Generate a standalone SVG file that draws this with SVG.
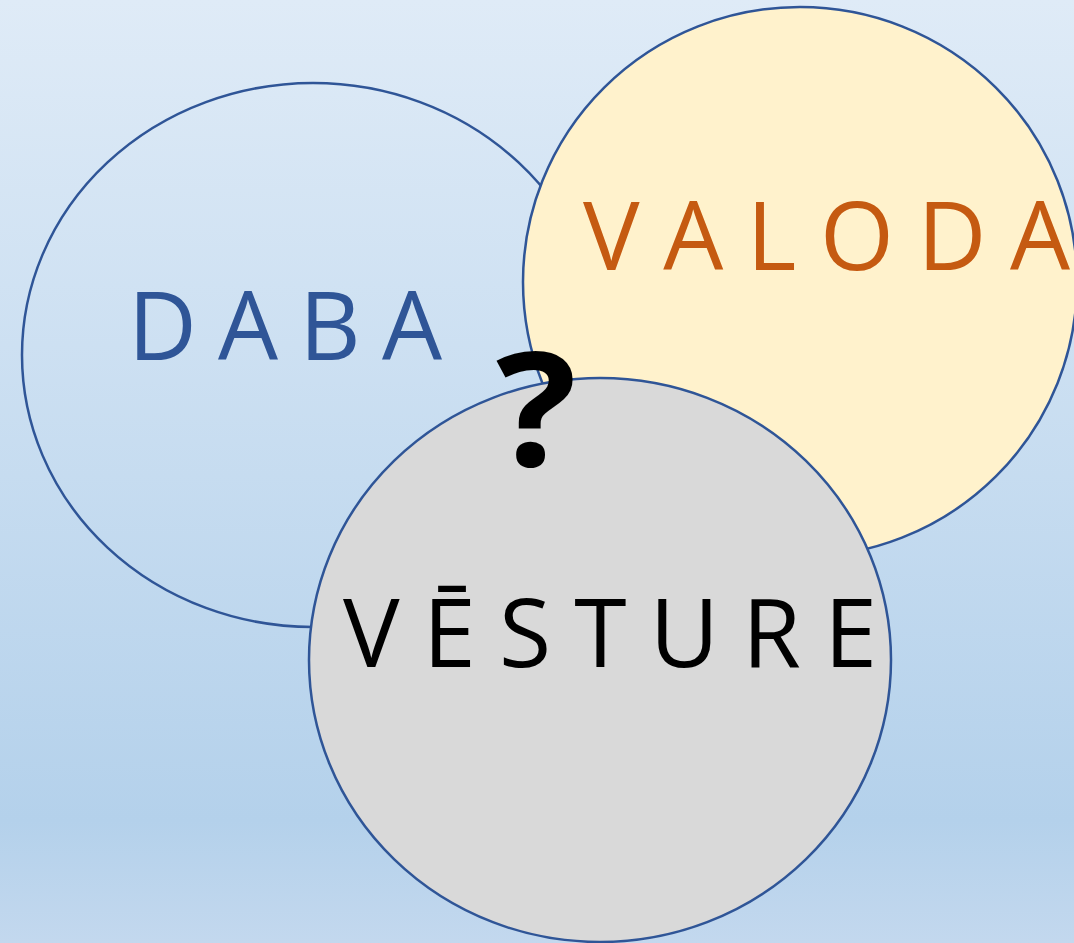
<svg xmlns="http://www.w3.org/2000/svg" width="1074" height="943" viewBox="0 0 1074 943">
  <defs>
    <linearGradient id="bg" x1="0" y1="0" x2="0" y2="1">
      <stop offset="0" stop-color="#dfebf7"/>
      <stop offset="0.87" stop-color="#b4d1eb"/>
      <stop offset="1" stop-color="#c3d8ee"/>
    </linearGradient>
  </defs>
  <style>
    .shape { stroke: #2f5597; stroke-width: 2.5; }
    .lbl { font-family: "Open Sans", "Noto Sans", "Liberation Sans", sans-serif; font-size: 95px; }
  </style>
  <rect x="0" y="0" width="1074" height="943" fill="url(#bg)"/>
  <g id="daba">
    <ellipse class="shape" cx="313" cy="355" rx="291" ry="272" fill="none"/>
    <text class="lbl" x="128" y="360" fill="#2f5597" textLength="314" lengthAdjust="spacing">DABA</text>
  </g>
  <g id="valoda">
    <ellipse class="shape" cx="800" cy="282" rx="277" ry="275" fill="#fff2cc"/>
    <text class="lbl" x="583" y="270" fill="#c55a11" textLength="487" lengthAdjust="spacing">VALODA</text>
  </g>
  <g id="vesture">
    <ellipse class="shape" cx="600" cy="660" rx="291" ry="282" fill="#d9d9d9"/>
    <text class="lbl" x="343" y="667" fill="#000000" textLength="534" lengthAdjust="spacing">VĒSTURE</text>
  </g>
  <g id="question">
    <text x="496" y="466" font-family="Open Sans, Noto Sans, Liberation Sans, sans-serif" font-weight="bold" font-size="158" fill="#000000" transform="translate(496 466) scale(1.07 1) translate(-496 -466)">?</text>
  </g>
  <g id="connectors"></g>
</svg>
